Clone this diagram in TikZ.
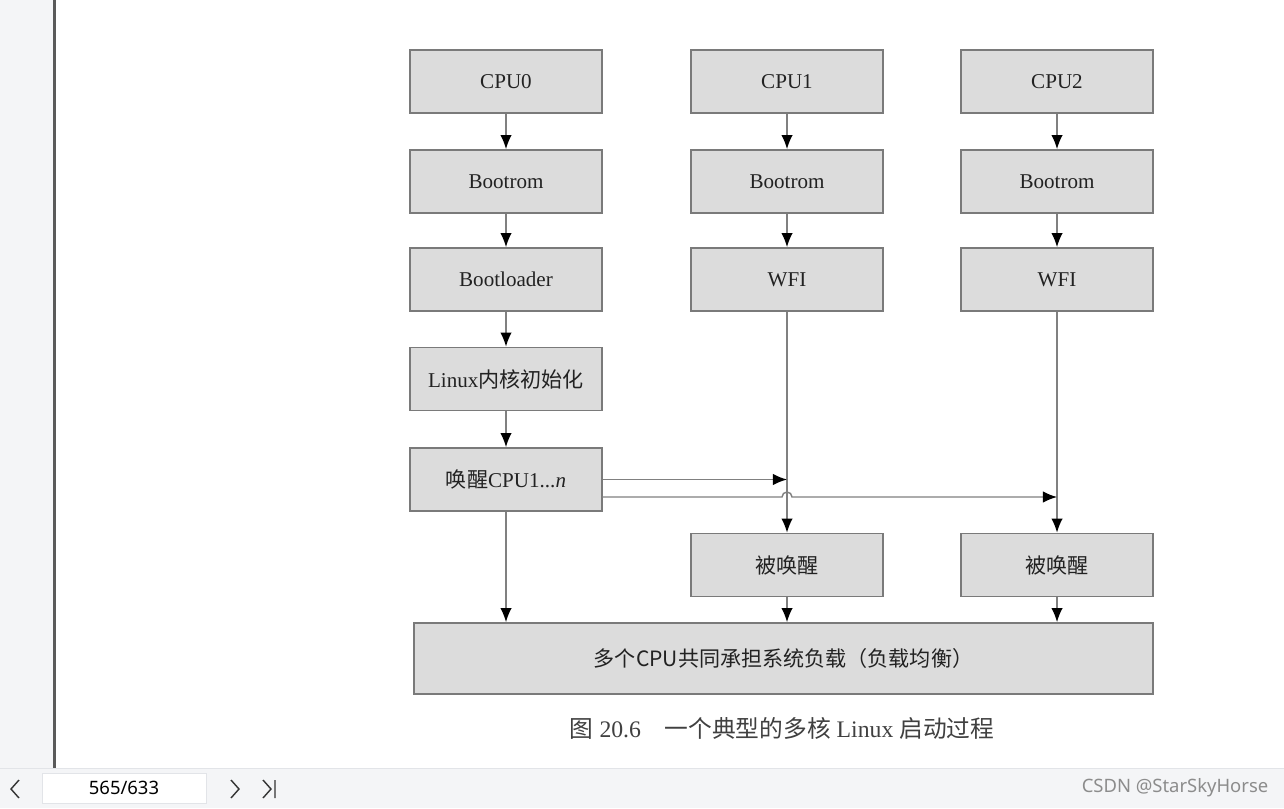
\documentclass[tikz,border=0pt]{standalone}
\usepackage{fontspec}
\setmainfont{Liberation Serif}
\newfontfamily\cjk{Noto Sans CJK SC}
\newfontfamily\uifont{Noto Sans}
\usetikzlibrary{arrows.meta}
\definecolor{boxfill}{HTML}{DCDCDC}
\definecolor{boxline}{HTML}{7A7A7A}
\definecolor{flowline}{HTML}{808080}
\definecolor{textcol}{HTML}{222222}
\definecolor{uibg}{HTML}{F4F5F7}
\definecolor{uiline}{HTML}{E2E4E8}
\definecolor{pageedge}{HTML}{5A5A5A}

\begin{document}
\begin{tikzpicture}[x=0.02cm,y=-0.02cm,
    box/.style={draw=boxline, fill=boxfill, line width=1pt, text=textcol,
      minimum width=3.84cm, minimum height=1.26cm, inner sep=0pt,
      font=\fontsize{12}{14}\selectfont},
    flow/.style={draw=flowline, line width=0.8pt, -{Latex[length=8pt,width=6.5pt,black]}},
    pagebox/.style={draw=uiline, fill=white, minimum width=3.28cm, minimum height=0.6cm,
      font=\uifont\fontsize{10.5}{12}\selectfont}]
  \useasboundingbox (0,0) rectangle (1284,808);
  \fill[white] (0,0) rectangle (1284,808);
  % viewer frame
  \fill[uibg] (0,0) rectangle (53,768);
  \fill[pageedge] (53,0) rectangle (56,768);
  \fill[uibg] (0,768) rectangle (1284,808);
  \draw[uiline] (0,768) -- (1284,768);
  \node[pagebox] (page) at (124,788) {565/633};
  \draw[black!80, line width=0.8pt] (19,780) -- (11,789) -- (19,798);
  \draw[black!80, line width=0.8pt] (231,780) -- (239,789) -- (231,798);
  \draw[black!80, line width=0.8pt] (263,780) -- (271,789) -- (263,798) (275,780) -- (275,798);
  \node[text=black!45, font=\uifont\fontsize{10.5}{12}\selectfont] (mark) at (1175,788) {CSDN @StarSkyHorse};

  % boot CPU
  \node[box] (cpu0) at (506,81.5) {CPU0};
  \node[box] (boot0) at (506,181.5) {Bootrom};
  \node[box] (loader) at (506,279.5) {Bootloader};
  \node[box] (kinit) at (506,379) {Linux{\cjk 内核初始化}};
  \node[box] (wake) at (506,479.5) {{\cjk 唤醒}CPU1...\textit{n}};
  % secondary CPUs
  \node[box] (cpu1) at (787,81.5) {CPU1};
  \node[box] (boot1) at (787,181.5) {Bootrom};
  \node[box] (wfi1) at (787,279.5) {WFI};
  \node[box] (woke1) at (787,565) {\cjk 被唤醒};
  \node[box] (cpu2) at (1057,81.5) {CPU2};
  \node[box] (boot2) at (1057,181.5) {Bootrom};
  \node[box] (wfi2) at (1057,279.5) {WFI};
  \node[box] (woke2) at (1057,565) {\cjk 被唤醒};
  \node[box, minimum width=14.78cm, minimum height=1.42cm] (all) at (783.5,658.5)
    {\cjk 多个CPU共同承担系统负载（负载均衡）};

  \draw[flow] (cpu0) -- (boot0);
  \draw[flow] (boot0) -- (loader);
  \draw[flow] (loader) -- (kinit);
  \draw[flow] (kinit) -- (wake);
  \draw[flow] (cpu1) -- (boot1);
  \draw[flow] (boot1) -- (wfi1);
  \draw[flow] (wfi1) -- (woke1);
  \draw[flow] (cpu2) -- (boot2);
  \draw[flow] (boot2) -- (wfi2);
  \draw[flow] (wfi2) -- (woke2);

  \draw[flow] (wake.east) -- (wake.east -| wfi1);
  \coordinate (w2) at (602,497);
  \draw[flow] (w2) -- (782,497) arc (180:360:5) -- (w2 -| wfi2);

  \draw[flow] (wake.south) -- (wake.south |- all.north);
  \draw[flow] (woke1.south) -- (woke1.south |- all.north);
  \draw[flow] (woke2.south) -- (woke2.south |- all.north);

  \node[text=black!75, font=\fontsize{13.5}{16}\selectfont] (caption) at (782,728)
    {{\cjk 图} 20.6\quad{\cjk 一个典型的多核} Linux {\cjk 启动过程}};
\end{tikzpicture}
\end{document}
